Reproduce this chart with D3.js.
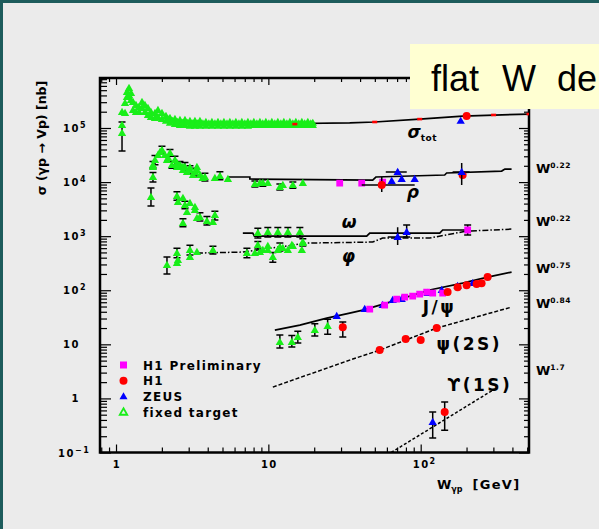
<!DOCTYPE html>
<html>
<head>
<meta charset="utf-8">
<script src="https://cdn.jsdelivr.net/npm/d3@7/dist/d3.min.js"></script>
<style>
html,body{margin:0;padding:0;background:#ebebeb;}
svg{display:block;}
text{font-family:"DejaVu Sans",sans-serif;font-weight:bold;fill:#000;}
</style>
</head>
<body>
<svg id="chart" width="599" height="529"></svg>
<script>
// ================= DATA (W in GeV, sigma in nb) =================
// axis ticks
const xTickVals = [1, 10, 100];
const xTickBase = ["1", "10", "10"];
const xTickSup  = ["", "", "2"];
const yTickVals = [0.1, 1, 10, 100, 1000, 1e4, 1e5];
const yTickBase = ["10", "1", "10", "10", "10", "10", "10"];
const yTickSup  = ["-1", "", "", "2", "3", "4", "5"];

// sigma_tot, fixed target  [W, sigma, lo, hi]
const totFixed = [
 [1.095,8.07e4,3.75e4,1.29e5],[1.095,1.13e5],[1.095,1.97e5],
 [1.146,1.89e5],[1.146,2.89e5],[1.18,3.73e5],[1.18,4.62e5],
 [1.217,5.48e5],[1.217,4.07e5],[1.254,4.43e5],[1.254,3.29e5],
 [1.293,3.02e5],[1.293,2.15e5],[1.352,1.97e5],[1.352,2.66e5],
 [1.415,2.44e5],[1.415,1.97e5],[1.481,3.02e5],[1.481,2.34e5],
 [1.549,2.66e5],[1.549,1.97e5],[1.621,2.34e5],[1.621,1.74e5],
 [1.696,1.97e5],[1.696,1.59e5],[1.802,1.89e5],[1.802,1.53e5],
 [1.885,2.15e5],[1.885,1.59e5],[2.003,1.89e5],[2.003,1.46e5],
 [2.128,1.66e5],[2.128,1.35e5],[2.261,1.53e5],[2.261,1.24e5],
 [2.437,1.46e5],[2.437,1.18e5],[2.629,1.40e5],[2.629,1.13e5],
 [2.835,1.40e5],[2.835,1.13e5],[3.057,1.35e5],[3.057,1.09e5],
 [3.297,1.35e5],[3.297,1.09e5],[3.556,1.35e5],[3.556,1.09e5],
 [3.89,1.29e5],[3.89,1.09e5],[4.26,1.29e5],[4.26,1.09e5],
 [4.67,1.29e5],[4.67,1.09e5],[5.11,1.29e5],[5.11,1.09e5],
 [5.59,1.29e5],[5.59,1.09e5],[6.12,1.29e5],[6.12,1.09e5],
 [6.70,1.29e5],[6.70,1.09e5],[7.34,1.29e5],[7.34,1.09e5],
 [8.03,1.29e5],[8.03,1.13e5],[8.80,1.29e5],[8.80,1.13e5],
 [9.63,1.29e5],[9.63,1.13e5],[10.54,1.29e5],[10.54,1.13e5],
 [11.54,1.29e5],[11.54,1.13e5],[12.64,1.29e5],[12.64,1.13e5],
 [13.84,1.29e5],[13.84,1.13e5],[15.15,1.29e5],[15.15,1.13e5],
 [16.59,1.29e5],[16.59,1.13e5],[18.16,1.29e5],[18.16,1.13e5],
 [19.58,1.24e5],[19.58,1.13e5],
 [2.19,1.46e5],[2.35,1.35e5],[2.53,1.29e5],[2.73,1.24e5],[2.94,1.24e5],[3.17,1.21e5],[3.43,1.21e5],
 [3.72,1.21e5],[4.07,1.21e5],[4.46,1.21e5],[4.88,1.21e5],[5.35,1.21e5],[5.85,1.21e5],
 [6.41,1.21e5],[7.01,1.21e5],[7.68,1.21e5],[8.41,1.21e5],[9.20,1.21e5],[10.08,1.21e5],
 [11.03,1.21e5],[12.08,1.21e5],[13.23,1.21e5],[14.48,1.21e5],[15.85,1.21e5],[17.34,1.21e5],[18.99,1.21e5]
];
const totH1Small = [[14.92,1.18e5],[49.9,1.29e5],[98.5,1.46e5],[301,1.74e5],[514,1.81e5]];
const totH1 = [[200.3,1.66e5]];
const totZEUS = [[183,1.35e5]];

// rho
const rhoFixed = [
 [1.696,5.28e3,3.6e3,7.75e3],[1.748,1.24e4,1.0e4,1.5e4],[1.748,1.9e4],[1.748,2.07e4,1.8e4,2.4e4],
 [1.802,2.55e4,2.1e4,3.1e4],[1.885,3.16e4],[1.943,3.6e4],[2.003,3.91e4,3.3e4,4.6e4],
 [2.096,3.16e4],[2.16,2.55e4],[2.20,2.78e4],[2.261,3.44e4,3.0e4,4.0e4],
 [2.329,2.07e4,1.8e4,2.4e4],[2.437,2.55e4,2.1e4,3.0e4],[2.512,2.25e4],[2.512,1.9e4],[2.629,2.07e4,1.75e4,2.4e4],
 [2.75,1.67e4],[2.75,1.9e4],[2.835,1.9e4,1.6e4,2.3e4],[2.922,1.53e4],[3.057,1.67e4,1.4e4,2.0e4],
 [3.057,1.85e4],[3.199,1.35e4],[3.297,1.53e4,1.3e4,1.8e4],[3.398,1.9e4],[3.398,1.67e4],
 [3.556,1.35e4],[3.70,1.19e4],[3.834,1.24e4,1.05e4,1.45e4],[4.457,1.19e4],
 [4.808,1.29e4,1.1e4,1.55e4],[5.426,1.14e4],[8.16,9.2e3,8.1e3,1.05e4],[8.8,9.6e3],
 [9.2,9.6e3,8.4e3,1.1e4],[9.92,9.6e3],[11.9,8.1e3,7.1e3,9.2e3],[12.45,8.8e3],
 [14.48,8.8e3,7.7e3,1.0e4],[16.84,9.6e3]
];
const rhoH1Prel = [[29.4,9.6e3],[41.0,9.6e3],[56.3,1.0e4]];
// [W, sigma, lo, hi, Wlo, Whi]
const rhoH1 = [[55.5,8.81e3,6.54e3,1.24e4,41,91.3],[188.5,1.35e4]];
const rhoZEUS = [[70.6,1.53e4,1.35e4,1.7e4,59,81],[64.5,1.04e4],[75,1.14e4],[91.3,1.14e4],
 [185.8,1.53e4,8.81e3,2.25e4,162,209.5]];

// omega
const omegaFixed = [
 [2.512,5.51e3,4.6e3,6.6e3],[2.55,4.27e3],[2.75,5.06e3],[2.835,3.76e3,3.2e3,4.4e3],
 [3.057,4.09e3],[3.297,3.45e3],[2.922,2.79e3],[3.297,3.04e3],[3.556,2.25e3,1.9e3,2.7e3],
 [2.75,1.75e3,1.5e3,2.1e3],[3.398,2.16e3],[3.952,1.9e3,1.6e3,2.3e3],[4.457,2.46e3,2.0e3,2.9e3],
 [4.327,1.82e3],
 [8.53,1.14e3,9.2e2,1.4e3],[9.92,1.19e3,9.6e2,1.45e3],[11.54,1.19e3,9.6e2,1.45e3],
 [13.43,1.19e3,9.6e2,1.45e3],[16.1,1.19e3,9.6e2,1.45e3],
 [8.53,6.84e2,5.8e2,8.0e2],[9.92,6.56e2],[11.9,6.29e2,5.3e2,7.5e2],[14.26,6.84e2],[16.84,7.78e2,6.6e2,9.0e2]
];
const omegaZEUS = [[70.6,962,684,1.46e3,60.8,82.2],[80.9,1.19e3,962,1.6e3]];
const omegaH1Prel = [[203.4,1.3e3,1.05e3,1.6e3]];

// phi
const phiFixed = [
 [2.16,292,199,410],[2.512,487,400,600],[2.55,361],[2.512,318],[3.057,553,450,680],
 [3.057,410],[3.398,508],[4.327,553,470,650],
 [7.23,487,400,600],[8.16,487],[8.8,508],[9.2,553],[9.92,553],[10.7,410,330,500],
 [11.54,553],[12.45,602],[13.43,553],[14.48,656],[16.59,553],[16.84,745]
];

// J/psi
const jpsiFixed = [[11.9,11.0,8.51,14.8],[14.26,11.0,8.9,14.5],[15.61,13.6,10.6,17.5],
 [20.18,18.3,14.2,24],[24.5,21.7,15.3,29]];
const jpsiZEUS = [[28.1,33.3],[42.9,44.8],[56.3,53.1],[65.5,65.7],[75.0,68.6],[111.1,88.5],
 [137.4,101],[174.8,119],[219.2,135]];
const jpsiH1Prel = [[46.3,44.8],[58,53.1],[69.6,68.6],[78.5,74.7],[88.6,78],[98.5,84.9],
 [109.4,92.5],[119.9,88.5],[139.4,88.5]];
const jpsiH1 = [[30.8,20.8,13.6,25.8],[150.2,92.5],[174.8,114],[200.3,124],[232.8,130],[251,135],[275,175]];

// psi(2S)
const psi2SH1 = [[53.8,7.82],[79.7,12.5],[100,12.0],[127.4,20.0]];

// Upsilon(1S)
const upsZEUS = [[119.9,0.365,0.185,0.558]];
const upsH1 = [[143.7,0.558,0.259,0.855]];

// fit curves [W, sigma]
const lineTot = [[4.955,1.18e5],[16.1,1.21e5],[34.2,1.24e5],[49.9,1.29e5],[98.5,1.46e5],[188.5,1.66e5],[514,1.81e5]];
const lineRho = [[5.43,1.24e4],[7.56,1.24e4],[7.56,1.14e4],[48.4,1.09e4],[50.8,1.24e4],[143.7,1.35e4],
 [148,1.47e4],[340,1.6e4],[357,1.74e4],[395,1.74e4]];
const lineOmega = [[6.8,1.14e3],[7.9,1.14e3],[8.1,1.0e3],[44.2,1.0e3],[46.3,1.14e3],[133.4,1.14e3],
 [139.4,1.30e3],[209.5,1.30e3]];
const linePhi = [[3.398,487],[6.8,508],[17.89,745],[48.4,778],[56.3,922],[114.5,922],[200,1.24e3],[395,1.35e3]];
const lineJpsi = [[11.03,18.3],[16.1,22.7],[24.2,30.6],[34.2,37.8],[41.7,43.0],[69.6,65.7],
 [114.5,101],[188.5,135],[275,175],[395,217]];
const linePsi2S = [[10.7,1.62],[34.2,5.11],[53.8,7.82],[127.4,20.0],[395,48.8]];
const lineUps = [[64,0.1],[305.6,1.49]];

// curve annotations (anchor W, sigma at text baseline) and power-law labels
const curveLabels = [
 {t:"σ", sub:"tot", W:82, s:6.5e4},
 {t:"ρ", W:81, s:5.1e3},
 {t:"ω", W:30.3, s:1.41e3},
 {t:"φ", W:30.3, s:332},
 {t:"J/ψ", W:103, s:37.8},
 {t:"ψ(2S)", W:127, s:7.8},
 {t:"ϒ(1S)", W:150, s:1.36}
];
const powerLabels = ["0.22", "0.22", "0.75", "0.84", "1.7"];
const powerLabelSigma = [1.8e4, 1.9e3, 2.6e2, 5.8e1, 3.4];

const legendNames = ["H1 Preliminary", "H1", "ZEUS", "fixed target"];
const legendColors = ["#ff00ff", "#ff0000", "#0000ff", "#19ee19"];
const boxText = ["flat", "W", "de"];

// ================= DRAWING =================
const svg = d3.select("#chart");
const WID = 599, HEI = 529;
svg.append("rect").attr("width", WID).attr("height", HEI).attr("fill", "#ebebeb");
svg.append("rect").attr("x", 0).attr("y", 0).attr("width", 3).attr("height", HEI).attr("fill", "#1d5c5c");
svg.append("rect").attr("x", 0).attr("y", 0).attr("width", WID).attr("height", 3).attr("fill", "#1d5c5c");

const L = 100, R = 529, T = 78, B = 452.5;
const x = d3.scaleLog().domain([0.785, 514]).range([L, R]);
const y = d3.scaleLog().domain([0.1, 8.4e5]).range([B, T]);

function logTicks(scale, major) {
  const [a, b] = scale.domain(); const out = [];
  for (let e = -2; e <= 6; e++) for (let k = 1; k < 10; k++) {
    const v = k * Math.pow(10, e);
    if (v >= a * 0.999 && v <= b * 1.001 && ((k === 1) === major)) out.push(v);
  }
  return out;
}
function addAxis(fn, scale, vals, size, tr) {
  const g = svg.append("g").attr("transform", tr)
    .call(fn(scale).tickValues(vals).tickSize(size).tickSizeOuter(0).tickFormat(""));
  g.select(".domain").remove();
  g.selectAll("line").attr("stroke", "#000").attr("stroke-width", 1.2);
}
addAxis(d3.axisBottom, x, logTicks(x, false), -5, `translate(0,${B})`);
addAxis(d3.axisBottom, x, logTicks(x, true), -8, `translate(0,${B})`);
addAxis(d3.axisTop, x, logTicks(x, false), -4, `translate(0,${T})`);
addAxis(d3.axisTop, x, logTicks(x, true), -7, `translate(0,${T})`);
addAxis(d3.axisLeft, y, logTicks(y, false), -7, `translate(${L},0)`);
addAxis(d3.axisLeft, y, logTicks(y, true), -11, `translate(${L},0)`);
addAxis(d3.axisRight, y, logTicks(y, false), -5, `translate(${R},0)`);
addAxis(d3.axisRight, y, logTicks(y, true), -10, `translate(${R},0)`);

svg.append("rect").attr("x", L).attr("y", T).attr("width", R - L).attr("height", B - T)
  .attr("fill", "none").attr("stroke", "#000").attr("stroke-width", 2.5);

// tick labels
const ylab = svg.append("g");
yTickVals.forEach((v, i) => {
  const t = ylab.append("text").attr("y", y(v) + 4).attr("font-size", 10).attr("letter-spacing", 1.5);
  if (yTickSup[i]) {
    t.attr("x", yTickSup[i][0] === "-" ? 58 : 63).attr("text-anchor", "start");
    t.append("tspan").text(yTickBase[i]);
    t.append("tspan").attr("dy", -4).attr("font-size", 8).text(yTickSup[i].replace("-", "−"));
  } else {
    t.attr("x", 80).attr("text-anchor", "end").text(yTickBase[i]);
  }
});
xTickVals.forEach((v, i) => {
  const t = svg.append("text").attr("y", 468).attr("font-size", 10).attr("letter-spacing", 1.5);
  if (xTickSup[i]) {
    t.attr("x", x(v) - 8).attr("text-anchor", "start");
    t.append("tspan").text(xTickBase[i]);
    t.append("tspan").attr("dy", -4).attr("font-size", 8).text(xTickSup[i]);
  } else {
    t.attr("x", x(v) + 1).attr("text-anchor", "middle").text(xTickBase[i]);
  }
});

// axis titles
const xt = svg.append("text").attr("x", 437).attr("y", 489).attr("font-size", 13);
xt.append("tspan").text("W");
xt.append("tspan").attr("font-size", 8).attr("dy", 3).text("γp");
xt.append("tspan").attr("dy", -3).attr("dx", 10).attr("letter-spacing", 1.3).text("[GeV]");
svg.append("text").attr("transform", "translate(46,138) rotate(-90)").attr("text-anchor", "middle")
  .attr("font-size", 12.5).text("σ (γp → Vp) [nb]");

// clip for plot content
svg.append("clipPath").attr("id", "clip").append("rect")
  .attr("x", L).attr("y", T).attr("width", R - L).attr("height", B - T);
const plot = svg.append("g").attr("clip-path", "url(#clip)");

// curves
const line = d3.line().x(d => x(d[0])).y(d => y(d[1]));
function curve(data, dash, w) {
  plot.append("path").datum(data).attr("d", line).attr("fill", "none")
    .attr("stroke", "#000").attr("stroke-width", w || 1.7).attr("stroke-dasharray", dash || null);
}
curve(lineTot); curve(lineRho); curve(lineOmega); curve(lineJpsi);
curve(linePhi, "6,2,1.5,2", 1.5);
curve(linePsi2S, "4,2", 1.5);
curve(lineUps, "3,2", 1.5);

// error bars
function errBars(data) {
  data.forEach(d => {
    if (d[2] !== undefined) {
      const cx = x(d[0]);
      plot.append("line").attr("x1", cx).attr("x2", cx).attr("y1", y(d[2])).attr("y2", y(d[3]))
        .attr("stroke", "#000").attr("stroke-width", 1.5);
      if (d[4] === undefined) {
        [d[2], d[3]].forEach(v => plot.append("line").attr("x1", cx - 3.5).attr("x2", cx + 3.5)
          .attr("y1", y(v)).attr("y2", y(v)).attr("stroke", "#000").attr("stroke-width", 1.5));
      }
    }
    if (d[4] !== undefined) {
      plot.append("line").attr("x1", x(d[4])).attr("x2", x(d[5])).attr("y1", y(d[1])).attr("y2", y(d[1]))
        .attr("stroke", "#000").attr("stroke-width", 1.5);
    }
  });
}
const tri = d3.symbol().type(d3.symbolTriangle).size(30);
const sq = d3.symbol().type(d3.symbolSquare).size(46);
function pts(data, kind) {
  errBars(data);
  const g = plot.append("g");
  data.forEach(d => {
    const cx = x(d[0]), cy = y(d[1]);
    if (kind === "ft") g.append("path").attr("d", tri()).attr("transform", `translate(${cx},${cy + 0.5})`).attr("fill", legendColors[3]);
    else if (kind === "zeus") g.append("path").attr("d", tri()).attr("transform", `translate(${cx},${cy + 0.5})`).attr("fill", legendColors[2]);
    else if (kind === "h1p") g.append("path").attr("d", sq()).attr("transform", `translate(${cx},${cy})`).attr("fill", legendColors[0]);
    else if (kind === "h1") g.append("circle").attr("cx", cx).attr("cy", cy).attr("r", 4).attr("fill", legendColors[1]);
    else if (kind === "h1s") g.append("rect").attr("x", cx - 2.5).attr("y", cy - 1.3).attr("width", 5).attr("height", 2.6).attr("fill", legendColors[1]);
  });
}
pts(totFixed, "ft"); pts(totH1Small, "h1s"); pts(totH1, "h1"); pts(totZEUS, "zeus");
pts(rhoFixed, "ft"); pts(rhoH1Prel, "h1p"); pts(rhoH1, "h1"); pts(rhoZEUS, "zeus");
pts(omegaFixed, "ft"); pts(phiFixed, "ft"); pts(omegaZEUS, "zeus"); pts(omegaH1Prel, "h1p");
pts(jpsiFixed, "ft"); pts(jpsiZEUS, "zeus"); pts(jpsiH1Prel, "h1p"); pts(jpsiH1, "h1");
pts(psi2SH1, "h1");
pts(upsZEUS, "zeus"); pts(upsH1, "h1");

// curve labels
curveLabels.forEach(c => {
  const t = svg.append("text").attr("x", x(c.W)).attr("y", y(c.s)).attr("font-size", 17);
  if (c.t.length === 1) t.attr("font-style", "italic");
  else t.attr("letter-spacing", 2.5);
  t.append("tspan").text(c.t);
  if (c.sub) t.append("tspan").attr("font-size", 9).attr("dy", 3).attr("font-style", "normal").attr("letter-spacing", 0.5).text(c.sub);
});
// power labels on the right
powerLabels.forEach((p, i) => {
  const t = svg.append("text").attr("x", 536).attr("y", y(powerLabelSigma[i]) + 5).attr("font-size", 13);
  t.append("tspan").text("W");
  t.append("tspan").attr("font-size", 7.5).attr("dy", -5).attr("letter-spacing", 0.5).text(p);
});

// legend
const lg = svg.append("g");
legendNames.forEach((n, i) => {
  const cy = 365 + i * 15.7, cx = 123.5;
  if (i === 0) lg.append("rect").attr("x", cx - 3.5).attr("y", cy - 3.5).attr("width", 7).attr("height", 7).attr("fill", legendColors[0]);
  if (i === 1) lg.append("circle").attr("cx", cx).attr("cy", cy).attr("r", 4).attr("fill", legendColors[1]);
  if (i === 2) lg.append("path").attr("d", d3.symbol().type(d3.symbolTriangle).size(28)()).attr("transform", `translate(${cx},${cy + 0.5})`).attr("fill", legendColors[2]);
  if (i === 3) lg.append("path").attr("d", d3.symbol().type(d3.symbolTriangle).size(24)()).attr("transform", `translate(${cx},${cy + 0.5})`).attr("fill", "none").attr("stroke", legendColors[3]).attr("stroke-width", 1.8);
  lg.append("text").attr("x", 143).attr("y", cy + 4.5).attr("font-size", 12).attr("letter-spacing", 1.3).text(n);
});

// yellow text box
svg.append("rect").attr("x", 410).attr("y", 44).attr("width", 200).attr("height", 65).attr("fill", "#ffffd2");
const bx = [431, 502, 557];
boxText.forEach((s, i) => svg.append("text").attr("x", bx[i]).attr("y", 91)
  .style("font-family", "'Liberation Sans', Arial, sans-serif").style("font-weight", "normal")
  .attr("font-size", 36).text(s));
</script>
</body>
</html>
